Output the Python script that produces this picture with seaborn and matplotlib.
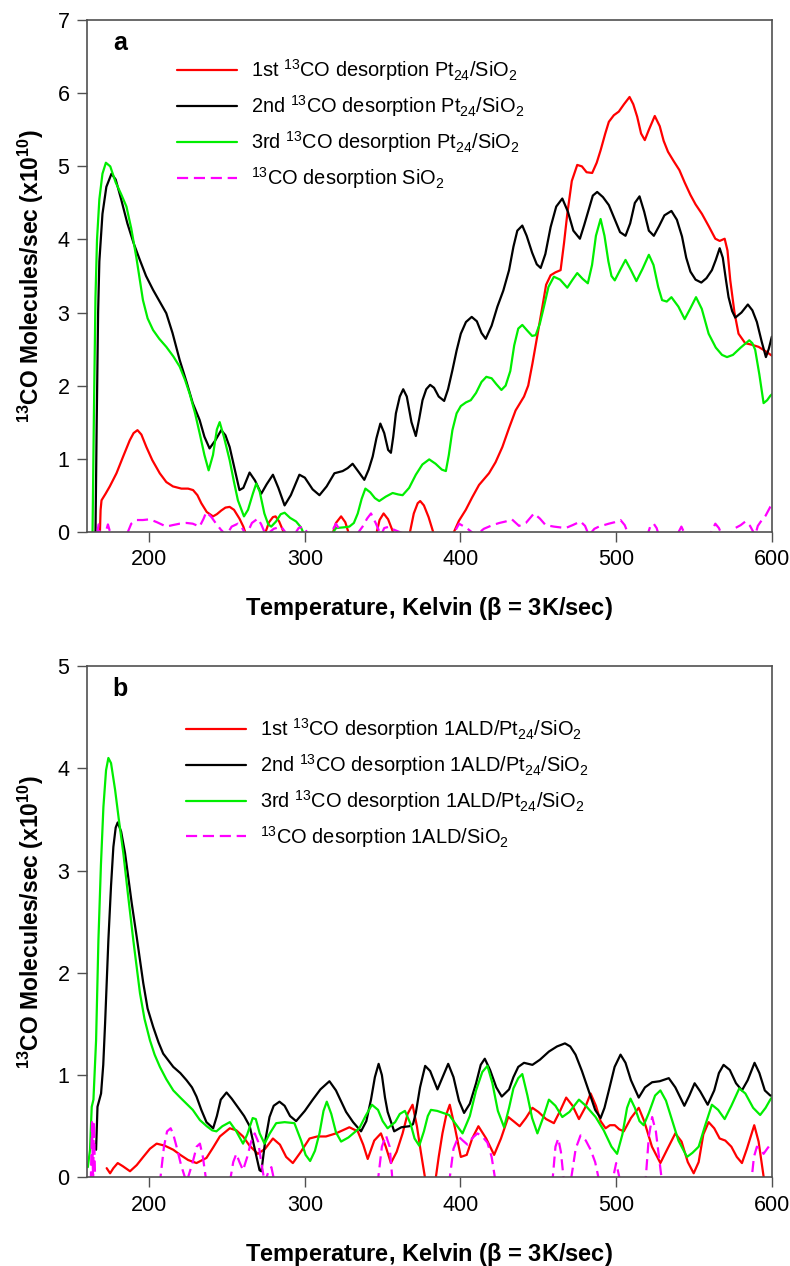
import matplotlib
matplotlib.use('Agg')
import matplotlib.pyplot as plt
import seaborn as sns

sns.set_style('white')
plt.rcParams['font.family'] = ['Liberation Sans', 'DejaVu Sans']
plt.rcParams['mathtext.default'] = 'regular'
plt.rcParams['text.color'] = 'black'
plt.rcParams['axes.labelcolor'] = 'black'

# ---- panel a: Pt24/SiO2 ----
a_red_t = [168.3, 168.8, 169.4, 172, 174.7, 179, 183.3, 187.5, 190, 192.5, 195, 198.2, 202, 206.8, 211, 215.3,
           220.7, 225, 228.2, 231, 233.5, 237, 241, 243.5, 246.3, 249, 251.7, 254.5, 258, 260.5, 262.4, 274,
           277, 279.5, 281.2, 283.5, 285.9, 287, 317.5, 320, 323.3, 326, 328.6, 345.7, 348, 350.6, 353.5, 357.5,
           367.1, 370, 372.5, 374.1, 376.5, 379.5, 383.1, 394.8, 399, 403.4, 407.5, 411.9, 418.3, 422.5, 426.9,
           431.2, 435.4, 440.8, 443.5, 446.2, 449.5, 452.6, 455, 457.9, 461, 464.3, 466.5, 468.6, 471.5, 475,
           478, 481, 484.6, 487.5, 490, 493, 495.3, 498.5, 501.7, 505, 508.6, 511, 513.5, 516, 518.4, 521,
           524.8, 528, 530.5, 533.3, 537, 540.6, 544, 547.7, 551, 555.1, 559.5, 563.7, 566.5, 569.7, 571.5,
           573.3, 576, 578.6, 582.9, 587, 591.5, 596, 600]
a_red_y = [-0.05, 0.3, 0.43, 0.52, 0.62, 0.8, 1.03, 1.25, 1.35, 1.39, 1.33, 1.16, 0.98, 0.80, 0.68, 0.62,
           0.59, 0.59, 0.57, 0.5, 0.39, 0.27, 0.21, 0.24, 0.29, 0.33, 0.34, 0.30, 0.18, 0.07, -0.05, -0.05,
           0.13, 0.2, 0.21, 0.14, 0.02, -0.05, -0.05, 0.12, 0.21, 0.13, -0.05, -0.05, 0.16, 0.25, 0.17, -0.05,
           -0.05, 0.25, 0.39, 0.42, 0.36, 0.2, -0.05, -0.05, 0.15, 0.30, 0.47, 0.64, 0.80, 0.95, 1.16,
           1.42, 1.66, 1.85, 2.0, 2.30, 2.7, 3.08, 3.38, 3.51, 3.55, 3.58, 3.95, 4.35, 4.8, 5.02,
           5.0, 4.92, 4.91, 5.05, 5.22, 5.45, 5.61, 5.70, 5.75, 5.85, 5.95, 5.85, 5.68, 5.45, 5.36, 5.5,
           5.69, 5.55, 5.35, 5.20, 5.07, 4.95, 4.78, 4.61, 4.48, 4.35, 4.18, 4.01, 3.98, 4.01, 3.85,
           3.44, 3.0, 2.71, 2.58, 2.56, 2.53, 2.47, 2.41]

a_black_t = [165.5, 166.3, 167.2, 168, 170, 172.5, 175.8, 178.5, 182, 186, 190, 194, 198, 202.5, 206.5, 211,
             215, 219.6, 224, 228, 232.4, 235.5, 238.8, 242.5, 246.3, 249, 251.7, 255, 258, 260.5, 264.5, 268,
             272, 275.5, 279.5, 283, 287, 291, 296.5, 300, 305, 309.4, 314, 319, 324.3, 327.5, 330.7, 334.5,
             338.2, 341, 343.6, 346, 348.5, 351, 353.5, 355.3, 356.8, 358.5, 361, 363.2, 365.5, 368.5, 371.3,
             373.5, 375.6, 378, 380.5, 383, 386, 389.5, 392, 394.8, 397.5, 400.2, 403.5, 407.2, 410.5, 413.5,
             416.2, 420, 423.7, 427.5, 431.2, 434, 436.5, 439.7, 442.5, 446, 449, 451.5, 454.5, 457.9, 461.5,
             465.4, 469, 472.5, 476.7, 479.5, 482.5, 485, 487.8, 491.5, 495.3, 499, 502.5, 506, 509, 512, 515,
             518, 521, 524.2, 527.5, 531, 535.5, 539, 542.3, 545, 547.7, 551, 554.7, 558, 561.5, 564, 566.5,
             568.5, 570.5, 572.2, 574.5, 576.5, 580.5, 584.6, 587.5, 590.4, 593.5, 596.2, 598, 600]
a_black_y = [-0.05, 1.5, 3.0, 3.7, 4.35, 4.72, 4.90, 4.82, 4.55, 4.22, 3.95, 3.72, 3.50, 3.31, 3.16, 2.99,
             2.72, 2.35, 2.05, 1.76, 1.53, 1.30, 1.14, 1.25, 1.39, 1.32, 1.16, 0.85, 0.57, 0.60, 0.81, 0.70,
             0.52, 0.65, 0.78, 0.60, 0.36, 0.5, 0.78, 0.74, 0.58, 0.50, 0.62, 0.80, 0.83, 0.87, 0.93, 0.82,
             0.71, 0.85, 1.03, 1.28, 1.48, 1.35, 1.12, 1.08, 1.30, 1.62, 1.85, 1.95, 1.85, 1.50, 1.31,
             1.55, 1.80, 1.95, 2.01, 1.97, 1.85, 1.79, 1.95, 2.21, 2.48, 2.71, 2.87, 2.94, 2.88, 2.72,
             2.64, 2.82, 3.08, 3.30, 3.58, 3.90, 4.12, 4.19, 4.05, 3.82, 3.66, 3.61, 3.80, 4.17, 4.45,
             4.56, 4.38, 4.12, 4.01, 4.20, 4.42, 4.60, 4.65, 4.58, 4.47, 4.28, 4.10, 4.05, 4.22, 4.50, 4.59,
             4.38, 4.12, 4.05, 4.18, 4.33, 4.39, 4.27, 4.04, 3.75, 3.56, 3.45, 3.41, 3.47, 3.58, 3.72, 3.88,
             3.75, 3.45, 3.21, 3.02, 2.93, 3.00, 3.11, 3.03, 2.87, 2.60, 2.39, 2.50, 2.67]

a_green_t = [163.6, 164.5, 165.5, 166.5, 168, 170, 172.2, 175, 178.5, 182, 185.4, 188.5, 191.8, 196, 199, 202.5,
             206.5, 211, 215.5, 219.6, 223, 226, 229.5, 232.4, 235.5, 238.2, 241, 243.5, 245.3, 248, 251.7, 254.5,
             257, 260.9, 263.5, 266.6, 268.8, 271, 274, 276.5, 278.4, 281.5, 284.5, 287, 290.5, 294.4, 297.5,
             299.8, 316.9, 320, 325, 328.6, 331.5, 334, 336.5, 338.9, 342, 345, 347.8, 352, 356.4, 360, 362.8,
             367, 371.3, 375.5, 379.9, 384, 388, 390.6, 392.5, 394.8, 397.5, 400.2, 403.5, 406.6, 410, 413.5,
             416.6, 420, 423, 426.3, 429, 432, 434.5, 437.1, 439.7, 443, 446, 448.3, 451, 453.6, 456.5, 460,
             464, 468.6, 472, 475, 478.5, 481.8, 484.5, 487, 490, 492.5, 495, 497, 499.1, 502.5, 506, 509.5,
             513, 517, 521, 524, 527, 529.5, 532.5, 535.5, 540, 544, 547.5, 551.3, 555, 559.4, 564, 568, 571.2,
             575, 580, 585.5, 587.5, 589.3, 592, 594.7, 597, 599, 600]
a_green_y = [-0.05, 1.6, 3.2, 4.0, 4.55, 4.90, 5.05, 5.00, 4.78, 4.62, 4.45, 4.15, 3.75, 3.17, 2.92, 2.76,
             2.64, 2.53, 2.40, 2.26, 2.08, 1.89, 1.62, 1.35, 1.05, 0.84, 1.05, 1.40, 1.50, 1.30, 0.98, 0.68,
             0.43, 0.21, 0.30, 0.52, 0.66, 0.55, 0.25, 0.10, 0.07, 0.14, 0.24, 0.26, 0.19, 0.14, 0.06,
             -0.05, -0.05, 0.05, 0.06, 0.07, 0.12, 0.25, 0.45, 0.59, 0.54, 0.46, 0.42, 0.48, 0.53, 0.51, 0.50,
             0.60, 0.78, 0.92, 0.99, 0.93, 0.85, 0.83, 1.05, 1.39, 1.62, 1.72, 1.77, 1.80, 1.90, 2.05,
             2.12, 2.10, 2.02, 1.94, 2.0, 2.2, 2.55, 2.78, 2.83, 2.75, 2.68, 2.69, 2.85, 3.08, 3.35, 3.49,
             3.45, 3.34, 3.45, 3.54, 3.46, 3.40, 3.65, 4.05, 4.28, 4.05, 3.70, 3.50, 3.44, 3.58, 3.72, 3.58,
             3.43, 3.60, 3.79, 3.65, 3.35, 3.17, 3.15, 3.21, 3.08, 2.91, 3.05, 3.21, 3.05, 2.71, 2.52, 2.42, 2.39,
             2.42, 2.52, 2.62, 2.58, 2.49, 2.15, 1.76, 1.80, 1.86, 1.88]

a_mag_t = [166.5, 167.5, 168.5, 171.5, 173.5, 175.5, 185.4, 188.5, 192, 196, 200.4, 205, 211, 215, 219.6, 224,
           228, 232.4, 235, 236.7, 240, 243, 246, 249.5, 253, 257, 260, 262.4, 266, 269.8, 272, 275, 280, 284.8,
           289, 293, 296, 298.7, 303, 316, 320, 324.3, 333, 337.1, 340, 342.5, 345.5, 348.9, 351, 354.2, 357,
           366, 395, 399.1, 404, 409.8, 415, 420.5, 425, 429, 433, 437.6, 442, 447.2, 451, 454.7, 460, 467.5,
           472, 477.1, 480, 482.5, 486, 488.9, 495.3, 499, 502.8, 505.5, 508.1, 520, 522, 524.1, 526, 527.4,
           539, 541.9, 544.5, 560, 563.7, 566, 568, 573, 576.5, 580, 583, 586, 589.3, 591, 593.6, 596, 599, 600]
a_mag_y = [-0.05, 0.1, -0.05, -0.05, 0.1, -0.05, -0.05, 0.11, 0.16, 0.16, 0.17, 0.13, 0.07, 0.09, 0.11, 0.12,
           0.11, 0.07, 0.18, 0.27, 0.2, 0.11, 0.03, -0.05, 0.07, 0.11, 0.04, -0.05, 0.12, 0.18, 0.1, -0.05, 0.04,
           0.07, -0.05, -0.05, 0.05, 0.07, -0.05, -0.05, 0.11, -0.05, -0.05, 0.07, 0.18, 0.25, 0.12, -0.05, 0.05,
           0.07, 0.03, -0.05, -0.05, 0.11, 0.05, -0.05, 0.04, 0.09, 0.12, 0.14, 0.17, 0.08, 0.12, 0.25, 0.18,
           0.09, 0.07, 0.05, 0.09, 0.14, 0.08, -0.05, 0.04, 0.07, 0.11, 0.13, 0.16, 0.09, -0.05, -0.05, 0.08,
           0.11, 0.05, -0.05, -0.05, 0.07, -0.05, -0.05, 0.11, 0.05, -0.05, -0.05, 0.05, 0.09, 0.14, 0.08, -0.05,
           0.08, 0.16, 0.22, 0.34, 0.36]

# ---- panel b: 1ALD/Pt24/SiO2 ----
b_red_t = [172.7, 174.9, 177, 179.8, 183, 187.7, 192, 196.2, 200.5, 204.8, 210, 215.5, 220, 225, 230.4, 236.8,
           241, 245.4, 251.8, 256, 260.3, 264.5, 269.8, 274.5, 279.5, 284, 288, 292.3, 297, 303, 308, 313.6,
           320, 328.6, 334, 337.5, 340.4, 342.5, 344.6, 348.9, 352, 355.3, 359, 362.8, 366, 369.2, 372, 374.5,
           377.7, 383.7, 386, 388.4, 391, 393.1, 396.5, 400.2, 404, 407.5, 411.5, 416.5, 421.6, 426, 430.7,
           434, 438, 442, 446.2, 450, 455, 460, 464, 467.9, 472, 476.1, 480, 483.6, 487, 490, 493.2, 496,
           499.1, 502, 504.9, 509.5, 514.5, 518, 523, 528.4, 533, 538, 542, 546, 549.8, 553, 556, 559.4, 563,
           566.5, 570.1, 574, 577.5, 580.8, 584, 588.7, 591.5, 594.7, 596]
b_red_y = [0.09, 0.04, 0.09, 0.14, 0.11, 0.06, 0.12, 0.20, 0.28, 0.33, 0.31, 0.27, 0.22, 0.17, 0.14, 0.19,
           0.29, 0.40, 0.48, 0.46, 0.40, 0.31, 0.23, 0.28, 0.38, 0.32, 0.20, 0.14, 0.24, 0.38, 0.40, 0.40,
           0.43, 0.49, 0.45, 0.32, 0.18, 0.27, 0.36, 0.43, 0.30, 0.14, 0.25, 0.43, 0.62, 0.71, 0.50, 0.25,
           -0.05, -0.05, 0.2, 0.43, 0.62, 0.71, 0.48, 0.20, 0.22, 0.38, 0.50, 0.38, 0.22, 0.38, 0.59,
           0.55, 0.50, 0.58, 0.68, 0.64, 0.57, 0.53, 0.65, 0.78, 0.70, 0.57, 0.68, 0.82, 0.70, 0.55, 0.48, 0.51,
           0.51, 0.47, 0.45, 0.58, 0.68, 0.55, 0.30, 0.14, 0.28, 0.43, 0.35, 0.15, 0.04, 0.15, 0.42, 0.54, 0.48,
           0.38, 0.36, 0.30, 0.20, 0.14, 0.28, 0.51, 0.35, 0.01, -0.05]

b_black_t = [165.9, 166.4, 166.8, 169.1, 170.5, 171.7, 173.8, 175.5, 177, 178.5, 179.8, 182, 184.5, 188.8, 192,
             196.2, 199, 202.6, 206, 209, 215.5, 220, 224, 227.5, 230.4, 233.5, 236.8, 241.1, 243.5, 246, 249.7,
             253, 258.2, 261, 264.6, 267.5, 270.9, 272.1, 274.5, 277.3, 280, 283.7, 287, 290.5, 294.4, 300,
             305.1, 310, 315.8, 320, 326.5, 331, 336.1, 339.5, 342.5, 345, 347.4, 349.5, 351.5, 353.2, 357.4,
             362, 367.1, 369.5, 371.3, 374, 377.3, 380.5, 385.2, 388.5, 392.1, 395.5, 399, 402.3, 406, 410, 413,
             415.6, 419, 423, 426.5, 431.2, 434, 437.1, 440.8, 446.2, 451, 456.8, 462, 467.1, 470.5, 473.9, 478,
             482.5, 486.5, 490, 492.5, 495.3, 499, 502.8, 506, 509.5, 514.5, 518.5, 523.1, 528, 533.8, 538,
             543.8, 547, 550.4, 554, 558.8, 563, 566, 569, 573, 577, 580.8, 584.5, 588.9, 592, 595.5, 599, 600]
b_black_y = [0.27, 0.5, 0.69, 0.82, 1.1, 1.51, 2.32, 2.85, 3.23, 3.42, 3.47, 3.38, 3.17, 2.68, 2.35,
             1.90, 1.65, 1.47, 1.32, 1.21, 1.08, 1.02, 0.95, 0.88, 0.79, 0.66, 0.54, 0.48, 0.60, 0.76, 0.83,
             0.77, 0.66, 0.60, 0.50, 0.30, 0.07, 0.06, 0.35, 0.59, 0.70, 0.74, 0.70, 0.60, 0.55, 0.65,
             0.76, 0.86, 0.94, 0.85, 0.64, 0.54, 0.45, 0.55, 0.76, 0.98, 1.11, 1.00, 0.78, 0.64, 0.45,
             0.49, 0.50, 0.52, 0.63, 0.88, 1.09, 1.04, 0.86, 0.98, 1.11, 0.98, 0.75, 0.63, 0.72, 0.92, 1.10,
             1.16, 1.05, 0.88, 0.79, 0.86, 0.98, 1.08, 1.12, 1.10, 1.15, 1.23, 1.28, 1.31, 1.28, 1.20, 1.04,
             0.84, 0.66, 0.58, 0.68, 0.85, 1.08, 1.20, 1.12, 0.95, 0.78, 0.88, 0.93, 0.94, 0.97, 0.88,
             0.70, 0.80, 0.92, 0.84, 0.71, 0.85, 1.02, 1.10, 1.05, 0.92, 0.85, 0.95, 1.12, 1.02, 0.85, 0.80, 0.80]

b_green_t = [160.6, 162, 163.1, 164.2, 165.9, 167.4, 169, 170.6, 172.3, 173.8, 175.5, 178.1, 180.5, 183.4, 186.5,
             189.8, 194.1, 197, 200.5, 203.5, 206.9, 211, 215.5, 220, 224, 228, 232.6, 237, 240.5, 243.2, 247,
             251.8, 256, 260.3, 263, 266.5, 268.5, 271, 274.1, 277.5, 281.6, 287, 293.3, 297.6, 300.5, 303.4,
             306.5, 309.4, 312, 314.1, 317, 320, 323.3, 328, 335, 339, 343.1, 347, 350, 353.2, 358, 361, 364.3,
             368, 370.5, 373.5, 376.5, 379, 381, 385, 392.7, 397, 401.3, 406, 410, 414, 417.3, 420.5, 424, 428,
             431.2, 434, 437.1, 439.7, 443, 446, 449.4, 453, 456.8, 461, 465.4, 470, 476.1, 480.5, 486.8, 492,
             497, 500.6, 504, 507, 509.2, 512, 515, 517.7, 521, 525, 528.4, 532, 535.9, 540, 545.5, 549, 553,
             557, 561.5, 565.5, 569.7, 574, 579.1, 583, 588, 592.5, 596, 599, 600]
b_green_y = [0.10, 0.27, 0.69, 0.76, 1.34, 2.32, 3.05, 3.62, 3.98, 4.10, 4.05, 3.79, 3.50, 3.17, 2.75,
             2.32, 1.80, 1.55, 1.34, 1.20, 1.08, 0.96, 0.85, 0.78, 0.72, 0.66, 0.56, 0.50, 0.46, 0.45, 0.50,
             0.54, 0.45, 0.33, 0.42, 0.58, 0.57, 0.43, 0.33, 0.43, 0.53, 0.54, 0.53, 0.36, 0.22, 0.16,
             0.26, 0.43, 0.65, 0.74, 0.62, 0.44, 0.35, 0.39, 0.48, 0.60, 0.71, 0.66, 0.55, 0.48, 0.54, 0.62, 0.65,
             0.52, 0.38, 0.31, 0.45, 0.60, 0.66, 0.65, 0.61, 0.52, 0.43, 0.60, 0.85, 1.03, 1.09, 0.92, 0.65, 0.49,
             0.68, 0.87, 0.97, 1.01, 0.80, 0.58, 0.43, 0.58, 0.76, 0.70, 0.59, 0.64, 0.76, 0.70, 0.59, 0.46,
             0.30, 0.23, 0.42, 0.68, 0.77, 0.68, 0.55, 0.51, 0.63, 0.80, 0.85, 0.75, 0.56, 0.36, 0.20, 0.24, 0.30,
             0.50, 0.71, 0.66, 0.57, 0.70, 0.87, 0.82, 0.68, 0.61, 0.68, 0.76, 0.78]

b_mag_t = [162.5, 163.3, 164, 164.5, 165.3, 206.9, 209.5, 211.5, 213.8, 215.5, 217.6, 220.5, 224, 228, 230.5,
           232.6, 234.5, 236.8, 251.8, 254, 256, 258, 260.3, 263, 265.5, 267.8, 270, 272, 274.2, 276.5, 278.5,
           280.6, 346.8, 349.5, 352.1, 354.5, 356.4, 392.7, 395.5, 398.7, 401.5, 404.5, 408, 410.9, 414, 417.3,
           420, 422.6, 459, 461, 462.8, 464.5, 466.5, 470.7, 474, 477.1, 480.5, 483.6, 486.5, 489.3, 497.4, 500,
           502.8, 518.8, 521, 523.1, 525.5, 527.5, 529.5, 586.8, 588.5, 590.4, 592.5, 594.7, 597, 599, 600]
b_mag_y = [-0.05, 0.54, -0.05, 0.54, -0.05, -0.05, 0.30, 0.45, 0.48, 0.42, 0.30, 0.12, -0.05, 0.15, 0.30,
           0.33, 0.2, -0.05, -0.05, 0.15, 0.23, 0.15, 0.07, 0.2, 0.35, 0.43, 0.35, 0.15, -0.05, 0.05, 0.10,
           -0.05, -0.05, 0.3, 0.41, 0.3, -0.05, -0.05, 0.28, 0.40, 0.36, 0.32, 0.39, 0.43, 0.40, 0.34,
           0.2, -0.05, -0.05, 0.3, 0.38, 0.25, -0.05, -0.05, 0.28, 0.41, 0.36, 0.27, 0.15, -0.05, -0.05, 0.14,
           -0.05, -0.05, 0.40, 0.59, 0.45, 0.2, -0.05, -0.05, 0.2, 0.30, 0.28, 0.23, 0.28, 0.32, 0.33]

a_labels = [r'1st $^{13}$CO desorption Pt$_{24}$/SiO$_2$',
            r'2nd $^{13}$CO desorption Pt$_{24}$/SiO$_2$',
            r'3rd $^{13}$CO desorption Pt$_{24}$/SiO$_2$',
            r'$^{13}$CO desorption SiO$_2$']
b_labels = [r'1st $^{13}$CO desorption 1ALD/Pt$_{24}$/SiO$_2$',
            r'2nd $^{13}$CO desorption 1ALD/Pt$_{24}$/SiO$_2$',
            r'3rd $^{13}$CO desorption 1ALD/Pt$_{24}$/SiO$_2$',
            r'$^{13}$CO desorption 1ALD/SiO$_2$']

colors = ['#ff0000', '#000000', '#00ee00', '#ff00ff']

fig = plt.figure(figsize=(7.9, 12.66), dpi=100)
ax_a = fig.add_axes([0.110, 0.580, 0.867, 0.404])
ax_b = fig.add_axes([0.110, 0.070, 0.867, 0.404])


def draw(ax, series, labels, ymax, letter, leg_xy):
    for (t, y), lab, c in zip(series, labels, colors):
        if c == '#ff00ff':
            sns.lineplot(x=t, y=y, ax=ax, color=c, lw=1.6, label=lab, sort=False,
                         estimator=None, ls=(0, (5, 2.6)))
        else:
            sns.lineplot(x=t, y=y, ax=ax, color=c, lw=1.6, label=lab, sort=False, estimator=None)
    ax.set_xlim(160, 600)
    ax.set_ylim(0, ymax)
    ax.set_xticks([200, 300, 400, 500, 600])
    ax.set_yticks(range(0, ymax + 1))
    for s in ax.spines.values():
        s.set_color('#505050')
        s.set_linewidth(1.2)
    ax.tick_params(axis='both', which='both', direction='out', length=7.5, width=1,
                   color='#505050', labelcolor='black', labelsize=15.5, pad=5, bottom=True, left=True)
    ax.set_xlabel(r'Temperature, Kelvin ($\beta$ = 3K/sec)', fontsize=17, fontweight='bold', labelpad=18)
    ax.set_ylabel(r'$^{13}$CO Molecules/sec (x10$^{10}$)', fontsize=16.5, fontweight='bold', labelpad=8)
    ax.text(0.048, 0.955, letter, transform=ax.transAxes, fontsize=18, fontweight='bold',
            ha='center', va='center')
    ax.legend(loc='upper left', bbox_to_anchor=leg_xy, frameon=False, fontsize=14.4,
              handlelength=3.0, handletextpad=0.7, labelspacing=0.5, borderpad=0, borderaxespad=0)


draw(ax_a, [(a_red_t, a_red_y), (a_black_t, a_black_y), (a_green_t, a_green_y), (a_mag_t, a_mag_y)],
     a_labels, 7, 'a', (0.131, 0.927))
draw(ax_b, [(b_red_t, b_red_y), (b_black_t, b_black_y), (b_green_t, b_green_y), (b_mag_t, b_mag_y)],
     b_labels, 5, 'b', (0.1445, 0.902))

fig.savefig('out.png', dpi=100)
